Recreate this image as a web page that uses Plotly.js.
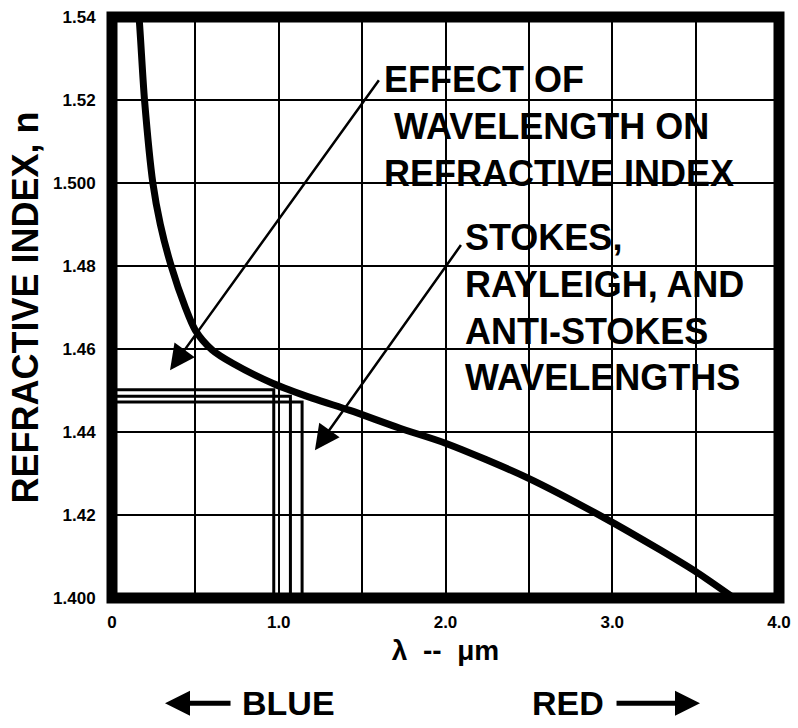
<!DOCTYPE html>
<html>
<head>
<meta charset="utf-8">
<script src="https://cdn.plot.ly/plotly-3.0.1.min.js"></script>
<style>html,body{margin:0;padding:0;background:#fff;}#chart{width:798px;height:728px;}</style>
</head>
<body>
<div id="chart"></div>
<script>
// Dispersion curve: wavelength (um) vs refractive index n
const wavelength = [0.150, 0.162, 0.195, 0.245, 0.290, 0.355, 0.440, 0.500, 0.600, 0.726, 0.966, 1.205, 1.427, 1.727, 2.000, 2.495, 2.944, 3.286, 3.514, 3.730];
const refractiveIndex = [1.5440, 1.5400, 1.5200, 1.5000, 1.4900, 1.4800, 1.4700, 1.4645, 1.4598, 1.4565, 1.4517, 1.4481, 1.4452, 1.4409, 1.4373, 1.4289, 1.4195, 1.4116, 1.4060, 1.4000];

// Anti-Stokes, Rayleigh and Stokes wavelengths with their indices
const lineNames = ["Anti-Stokes", "Rayleigh", "Stokes"];
const lineWavelengths = [0.97, 1.07, 1.14];
const lineIndices = [1.4502, 1.4486, 1.4472];

const xRange = [0, 4.0];
const yRange = [1.40, 1.54];
const xTickVals = [0, 1, 2, 3, 4];
const xTickText = ["0", "1.0", "2.0", "3.0", "4.0"];
const yTickVals = [1.40, 1.42, 1.44, 1.46, 1.48, 1.50, 1.52, 1.54];
const yTickText = ["1.400", "1.42", "1.44", "1.46", "1.48", "1.500", "1.52", "1.54"];

const BOLD = "Liberation Sans, Arial, Helvetica, sans-serif";

const traces = [];
lineNames.forEach((nm, i) => {
  traces.push({
    type: "scatter", mode: "lines", name: nm,
    x: [xRange[0], lineWavelengths[i], lineWavelengths[i]],
    y: [lineIndices[i], lineIndices[i], yRange[0]],
    line: {color: "#000", width: 3},
    hoverinfo: "skip", showlegend: false
  });
});
traces.push({
  type: "scatter", mode: "lines", name: "n(λ)",
  x: wavelength, y: refractiveIndex,
  line: {color: "#000", width: 7, shape: "spline", smoothing: 0.8},
  showlegend: false
});

const bigFont = {family: BOLD, size: 36, color: "#000", weight: 700};

const annotations = [
  {text: "EFFECT OF<br>\u00a0WAVELENGTH ON<br>REFRACTIVE INDEX", x: 1.619, y: 1.5137,
   xref: "x", yref: "y", xanchor: "left", yanchor: "middle", align: "left",
   showarrow: false, font: bigFont},
  {text: "STOKES,<br>RAYLEIGH, AND<br>ANTI-STOKES<br>WAVELENGTHS", x: 2.102, y: 1.4700,
   xref: "x", yref: "y", xanchor: "left", yanchor: "middle", align: "left",
   showarrow: false, font: bigFont},
  {text: "", x: 0.348, y: 1.4549, ax: 1.607, ay: 1.5251, xref: "x", yref: "y", axref: "x", ayref: "y",
   showarrow: true, arrowhead: 2, arrowsize: 2, arrowwidth: 2.5, arrowcolor: "#000", standoff: 0},
  {text: "", x: 1.217, y: 1.4356, ax: 2.099, ay: 1.4854, xref: "x", yref: "y", axref: "x", ayref: "y",
   showarrow: true, arrowhead: 2, arrowsize: 2, arrowwidth: 2.5, arrowcolor: "#000", standoff: 0},
  {text: "BLUE", x: 0.192, y: -0.181, xref: "paper", yref: "paper", xanchor: "left", yanchor: "middle",
   showarrow: false, font: {family: BOLD, size: 34, color: "#000", weight: 700}},
  {text: "RED", x: 0.627, y: -0.181, xref: "paper", yref: "paper", xanchor: "left", yanchor: "middle",
   showarrow: false, font: {family: BOLD, size: 34, color: "#000", weight: 700}},
  {text: "", x: 0.0795, y: -0.181, xref: "paper", yref: "paper", ax: 67, ay: 0,
   showarrow: true, arrowhead: 2, arrowsize: 1, arrowwidth: 5, arrowcolor: "#000", standoff: 0},
  {text: "", x: 0.8816, y: -0.181, xref: "paper", yref: "paper", ax: -85, ay: 0,
   showarrow: true, arrowhead: 2, arrowsize: 1, arrowwidth: 5, arrowcolor: "#000", standoff: 0}
];

const layout = {
  width: 798, height: 728,
  margin: {l: 112, r: 19, t: 17, b: 130},
  paper_bgcolor: "#fff", plot_bgcolor: "#fff",
  showlegend: false,
  font: {family: BOLD, color: "#000"},
  xaxis: {
    range: xRange, tickvals: xTickVals, ticktext: xTickText,
    ticks: "outside", ticklen: 9, tickcolor: "rgba(0,0,0,0)",
    tickfont: {family: BOLD, size: 17, color: "#000", weight: 700},
    showgrid: true, gridcolor: "#000", gridwidth: 2,
    minor: {dtick: 0.5, tick0: 0, showgrid: true, gridcolor: "#000", gridwidth: 2},
    zeroline: false, showline: false, fixedrange: true,
    title: {text: "λ\u00a0\u00a0--\u00a0\u00a0μm", font: {family: BOLD, size: 28, color: "#000", weight: 700}, standoff: 8}
  },
  yaxis: {
    range: yRange, tickvals: yTickVals, ticktext: yTickText,
    ticks: "outside", ticklen: 12, tickcolor: "rgba(0,0,0,0)",
    tickfont: {family: BOLD, size: 17, color: "#000", weight: 700},
    showgrid: true, gridcolor: "#000", gridwidth: 2,
    zeroline: false, showline: false, fixedrange: true,
    title: {text: "REFRACTIVE INDEX, n", font: {family: BOLD, size: 36, color: "#000", weight: 700}, standoff: 3}
  },
  shapes: [{type: "rect", xref: "paper", yref: "paper", x0: 0, x1: 1, y0: 0, y1: 1,
            line: {color: "#000", width: 11}, layer: "above"}],
  annotations: annotations
};

Plotly.newPlot("chart", traces, layout, {staticPlot: true, displayModeBar: false});
</script>
</body>
</html>
